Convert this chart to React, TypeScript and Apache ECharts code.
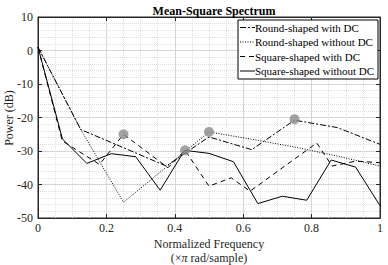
import React, { useEffect, useRef } from "react";
import * as echarts from "echarts";

const roundX = [0, 0.125, 0.25, 0.375, 0.5, 0.625, 0.75, 0.875, 1];
const roundWithDC = [1, -23.6, -29, -34.5, -25.8, -29.6, -20.8, -23, -28];
const roundWithoutDC = [1, -23.6, -45.3, -34.8, -24.3, -26.5, -28.8, -31.5, -34.5];

const squareWithDCX = [0, 0.071, 0.18, 0.25, 0.38, 0.43, 0.5, 0.565, 0.62, 0.815, 0.86, 0.93, 1];
const squareWithDC = [1, -27, -34, -25, -35, -29.8, -40.5, -38, -42, -27.6, -34.5, -33, -33.5];

const squareX = [0, 1 / 14, 2 / 14, 3 / 14, 4 / 14, 5 / 14, 6 / 14, 7 / 14, 8 / 14, 9 / 14, 10 / 14, 11 / 14, 12 / 14, 13 / 14, 1];
const squareWithoutDC = [1, -26.4, -33.7, -30.8, -31.7, -41.7, -29.8, -30.7, -33.2, -45.7, -43.5, -44.7, -32.7, -34.8, -46.3];

const markX = [0.25, 0.43, 0.5, 0.75];
const markY = [-25, -29.8, -24.3, -20.5];

const seriesNames = [
  "Round-shaped with DC",
  "Round-shaped without DC",
  "Square-shaped with DC",
  "Square-shaped without DC",
];
const dashTypes: any[] = [[6, 2, 2, 2], [1, 1.5], [5, 4], "solid"];

const xName1 = "Normalized Frequency";
const xName2 = "(×{i|π} rad/sample)";
const yName = "Power (dB)";

const zip = (xs: number[], ys: number[]) => xs.map((x, i) => [x, ys[i]]);

const FONT = "Liberation Serif";

export default function App() {
  const ref = useRef<HTMLDivElement>(null);
  useEffect(() => {
    if (!ref.current) return;
    const chart = echarts.init(ref.current, null, { renderer: "svg" });
    const axisCommon = {
      axisLine: { show: true, onZero: false, lineStyle: { color: "#262626", width: 1 } },
      axisTick: { show: true, inside: true, length: 4, lineStyle: { color: "#262626" } },
    };
    const line = (i: number, data: number[][]) => ({
      name: seriesNames[i],
      type: "line",
      data,
      symbol: "none",
      lineStyle: { color: "#000", width: 1, type: dashTypes[i] },
      itemStyle: { color: "#000" },
      z: 3,
    });
    const lx = 238, ly = 20, lw = 140, rowH = 14.5;
    const els: any[] = [
      { type: "rect", shape: { x: lx, y: ly, width: lw, height: rowH * 4 + 1 }, style: { fill: "#fff", stroke: "#000", lineWidth: 1 }, z: 10 },
    ];
    seriesNames.forEach((n, i) => {
      const cy = ly + 7.5 + i * rowH;
      const dash = dashTypes[i];
      els.push({
        type: "line",
        shape: { x1: lx + 2, y1: cy, x2: lx + 17, y2: cy },
        style: { stroke: "#000", lineWidth: 1, lineDash: dash === "solid" ? null : dash },
        z: 11,
      });
      els.push({
        type: "text",
        x: lx + 17,
        y: cy,
        style: { text: n, font: `11px ${FONT}`, fill: "#000", verticalAlign: "middle", align: "left" },
        z: 11,
      });
    });
    els.push({
      type: "text",
      x: 209,
      y: 244,
      style: { text: xName1, font: `12px ${FONT}`, fill: "#262626", align: "center", verticalAlign: "middle" },
    });
    els.push({
      type: "text",
      x: 209,
      y: 258,
      style: {
        text: xName2,
        font: `12px ${FONT}`,
        fill: "#262626",
        align: "center",
        verticalAlign: "middle",
        rich: { i: { font: `italic 12px ${FONT}`, fill: "#262626" } },
      },
    });
    els.push({
      type: "text",
      x: 9,
      y: 118,
      rotation: Math.PI / 2,
      style: { text: yName, font: `12px ${FONT}`, fill: "#262626", align: "center", verticalAlign: "middle" },
    });
    chart.setOption({
      animation: false,
      title: {
        text: "Mean-Square Spectrum",
        left: 209,
        textAlign: "center",
        top: 0,
        textStyle: { fontFamily: FONT, fontSize: 12, fontWeight: "bold", color: "#000" },
      },
      graphic: els,
      grid: {
        left: 38, right: 8, top: 17, bottom: 47,
        containLabel: false,
        outerBoundsMode: "none",
        show: true, borderColor: "#262626", borderWidth: 1, backgroundColor: "#fff",
      },
      xAxis: [
        {
          type: "value",
          min: 0,
          max: 1,
          interval: 0.2,
          ...axisCommon,
          axisLabel: { fontFamily: FONT, fontSize: 12, color: "#262626", margin: 4, formatter: (v: number) => (v === 0 || v === 1 ? String(v) : v.toFixed(1)) },
          splitLine: { show: true, lineStyle: { color: "#d6d6d6", width: 1 } },
          minorTick: { show: false, splitNumber: 4 },
          minorSplitLine: { show: true, lineStyle: { color: "#dedede", type: [1, 1], width: 1 } },
        },
        {
          type: "value",
          position: "top",
          min: 0,
          max: 1,
          interval: 0.2,
          ...axisCommon,
          axisLabel: { show: false },
          splitLine: { show: false },
        },
      ],
      yAxis: [
        {
          type: "value",
          min: -50,
          max: 10,
          interval: 10,
          ...axisCommon,
          axisLabel: { fontFamily: FONT, fontSize: 12, color: "#262626", margin: 5 },
          splitLine: { show: true, lineStyle: { color: "#d6d6d6", width: 1 } },
          minorTick: { show: false, splitNumber: 5 },
          minorSplitLine: { show: true, lineStyle: { color: "#dedede", type: [1, 1], width: 1 } },
        },
        {
          type: "value",
          position: "right",
          min: -50,
          max: 10,
          interval: 10,
          ...axisCommon,
          axisLabel: { show: false },
          splitLine: { show: false },
        },
      ],
      series: [
        line(0, zip(roundX, roundWithDC)),
        line(1, zip(roundX, roundWithoutDC)),
        line(2, zip(squareWithDCX, squareWithDC)),
        line(3, zip(squareX, squareWithoutDC)),
        {
          name: "marks",
          type: "scatter",
          data: zip(markX, markY),
          symbol: "circle",
          symbolSize: 10,
          itemStyle: { color: "#8c8c8c" },
          z: 4,
        },
      ],
    });
    return () => chart.dispose();
  }, []);
  return <div ref={ref} style={{ width: 388, height: 265, position: "absolute", left: 0, top: 0 }} />;
}
